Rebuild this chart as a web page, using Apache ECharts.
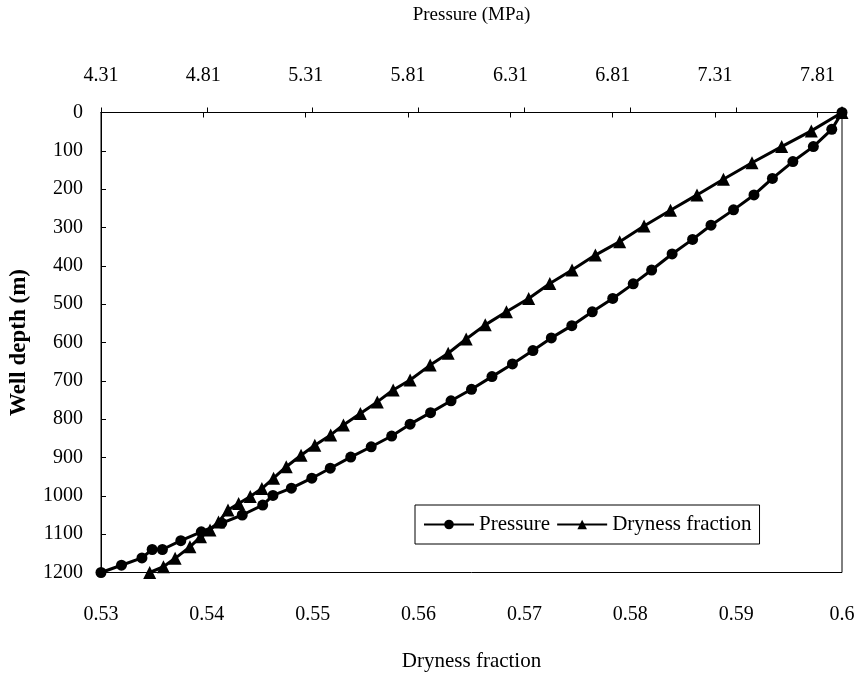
<!DOCTYPE html>
<html><head><meta charset="utf-8">
<script src="https://cdn.jsdelivr.net/npm/echarts@6/dist/echarts.min.js"></script>
<style>html,body{margin:0;padding:0;background:#fff}#c{width:861px;height:680px}</style>
</head><body><div id="c"></div>
<script>
// Pressure series (MPa) vs well depth (m)
const pressureDepth = [0,44,89,128,172,215,254,294,331,369,411,447,485,520,556,588,621,656,689,722,752,783,813,844,872,899,928,954,980,999,1024,1050,1071,1094,1117,1140,1140,1162,1181,1200];
const pressure = [7.93,7.88,7.79,7.69,7.59,7.50,7.40,7.29,7.20,7.10,7.00,6.91,6.81,6.71,6.61,6.51,6.42,6.32,6.22,6.12,6.02,5.92,5.82,5.73,5.63,5.53,5.43,5.34,5.24,5.15,5.10,5.00,4.90,4.80,4.70,4.61,4.56,4.51,4.41,4.31];
// Dryness fraction series vs well depth (m)
const drynessDepth = [0,48,89,131,174,215,255,296,337,372,411,446,485,520,554,591,628,659,698,724,755,785,815,841,868,894,924,954,981,1002,1020,1037,1068,1089,1107,1133,1163,1185,1200];
const dryness = [0.6000,0.5971,0.5943,0.5915,0.5888,0.5863,0.5838,0.5813,0.5790,0.5767,0.5745,0.5724,0.5704,0.5683,0.5663,0.5645,0.5628,0.5611,0.5592,0.5576,0.5561,0.5545,0.5529,0.5517,0.5502,0.5489,0.5475,0.5463,0.5452,0.5441,0.5430,0.5420,0.5411,0.5403,0.5394,0.5384,0.5370,0.5359,0.5346];
// Axis settings
const pressureMin = 4.31, pressureMax = 7.93, pressureStep = 0.5;
const drynessMin = 0.53, drynessMax = 0.6, drynessStep = 0.01;
const depthMin = 0, depthMax = 1200, depthStep = 100;
const seriesNames = ['Pressure', 'Dryness fraction'];

const FONT = 'Liberation Serif';
const chart = echarts.init(document.getElementById('c'), null, {renderer: 'canvas'});
const txt = {color: '#000', fontFamily: FONT, fontSize: 20};
chart.setOption({
  animation: false,
  backgroundColor: '#fff',
  grid: {left: 101, right: 19, top: 112.5, bottom: 107.5, show: true, borderColor: '#000', borderWidth: 1},
  legend: {
    left: 415, top: 505, padding: [9, 8, 9, 8], itemGap: 6,
    borderColor: '#000', borderWidth: 1, borderRadius: 0,
    itemWidth: 50, itemHeight: 12,
    textStyle: Object.assign({}, txt, {fontSize: 21}),
    data: [{name: seriesNames[0]}, {name: seriesNames[1]}]
  },
  xAxis: [
    {
      type: 'value', position: 'bottom', min: drynessMin, max: drynessMax, interval: drynessStep,
      name: 'Dryness fraction', nameLocation: 'middle', nameGap: 78,
      nameTextStyle: Object.assign({}, txt, {fontSize: 21}),
      axisLine: {show: true, lineStyle: {color: '#000', width: 1}},
      axisTick: {show: true, inside: true, length: 5, lineStyle: {color: '#000'}},
      axisLabel: Object.assign({margin: 32}, txt),
      splitLine: {show: false}
    },
    {
      type: 'value', position: 'top', min: 0, max: +(pressureMax - pressureMin).toFixed(2), interval: pressureStep,
      name: 'Pressure (MPa)', nameLocation: 'middle', nameGap: 88,
      nameTextStyle: Object.assign({}, txt, {fontSize: 19}),
      axisLine: {show: true, lineStyle: {color: '#000', width: 1}},
      axisTick: {show: true, inside: true, length: 5, lineStyle: {color: '#000'}},
      axisLabel: Object.assign({margin: 27, showMaxLabel: false,
        formatter: v => (v + pressureMin).toFixed(2)}, txt),
      splitLine: {show: false}
    }
  ],
  yAxis: {
    type: 'value', inverse: true, min: depthMin, max: depthMax, interval: depthStep,
    name: 'Well depth (m)', nameLocation: 'middle', nameGap: 70, nameRotate: 90,
    nameTextStyle: Object.assign({}, txt, {fontSize: 23, fontWeight: 'bold'}),
    axisLine: {show: true, lineStyle: {color: '#000', width: 1}},
    axisTick: {show: true, inside: true, length: 5, lineStyle: {color: '#000'}},
    axisLabel: Object.assign({margin: 18, formatter: v => String(v)}, txt),
    splitLine: {show: false}
  },
  series: [
    {
      name: seriesNames[0], type: 'line', xAxisIndex: 1,
      data: pressure.map((p, i) => [+(p - pressureMin).toFixed(4), pressureDepth[i]]),
      symbol: 'circle', symbolSize: 11,
      lineStyle: {color: '#000', width: 3},
      itemStyle: {color: '#000'}, z: 3
    },
    {
      name: seriesNames[1], type: 'line', xAxisIndex: 0,
      data: dryness.map((d, i) => [d, drynessDepth[i]]),
      symbol: 'triangle', symbolSize: 13,
      lineStyle: {color: '#000', width: 3},
      itemStyle: {color: '#000'}, z: 3
    }
  ]
});
</script>
</body></html>
